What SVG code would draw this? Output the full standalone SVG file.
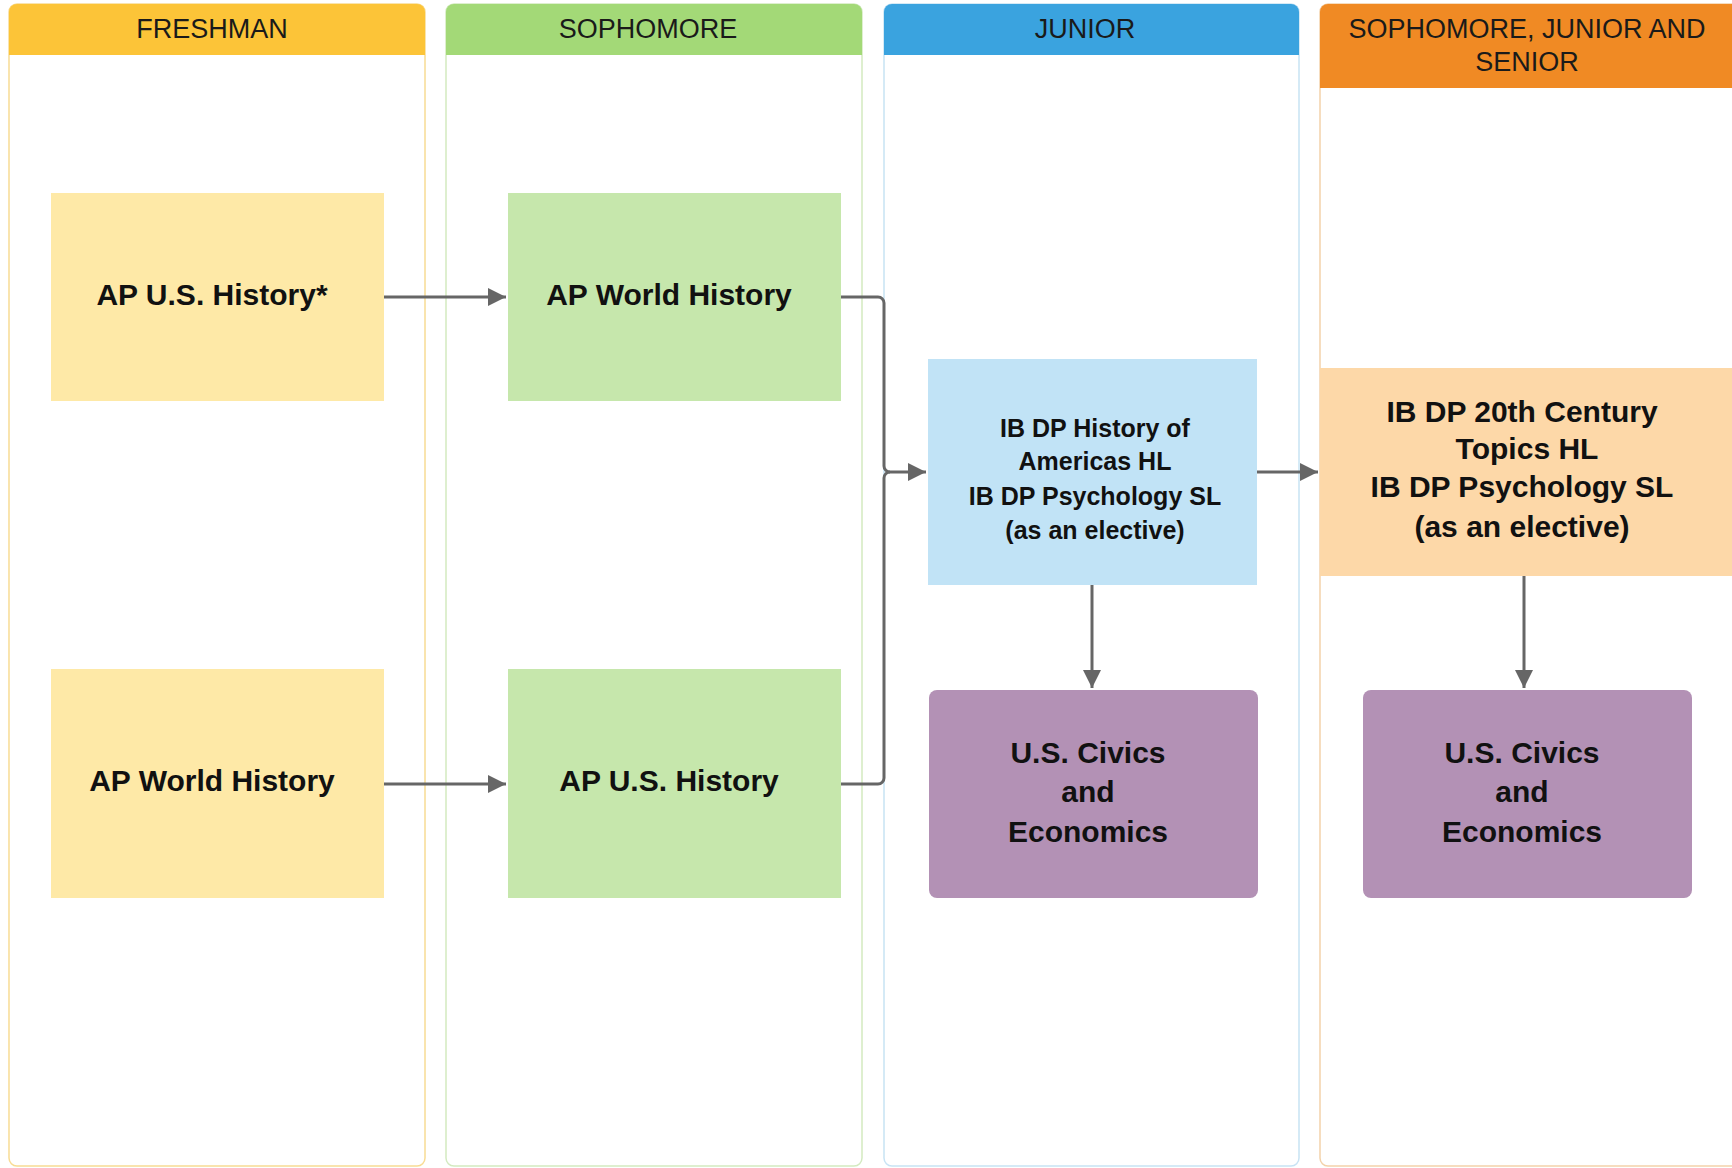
<svg xmlns="http://www.w3.org/2000/svg" width="1732" height="1168" viewBox="0 0 1732 1168">
<defs>
<style>
.lane{fill:#ffffff;stroke-width:1.5}
.hdr{font-family:"Liberation Sans",Arial,sans-serif;font-size:27px;fill:#1a1a1a;text-anchor:middle}
.nt{font-family:"Liberation Sans",Arial,sans-serif;font-weight:bold;font-size:30px;fill:#111111;text-anchor:middle}
.nt25{font-family:"Liberation Sans",Arial,sans-serif;font-weight:bold;font-size:25px;fill:#111111;text-anchor:middle}
.con{fill:none;stroke:#666666;stroke-width:3}
</style>
<marker id="arr" viewBox="0 0 10 10" refX="10" refY="5" markerWidth="6" markerHeight="6" markerUnits="strokeWidth" orient="auto">
<path d="M0,0 L10,5 L0,10 z" fill="#666666"/>
</marker>
</defs>
<rect width="1732" height="1168" fill="#ffffff"/>

<g id="lane-freshman">
<rect class="lane" x="9" y="4" width="416" height="1162" rx="8" stroke="#f8dc94"/>
<path d="M9,55 V12 a8,8 0 0 1 8,-8 H417 a8,8 0 0 1 8,8 V55 Z" fill="#fcc438"/>
<text class="hdr" x="212" y="38">FRESHMAN</text>
</g>
<g id="lane-sophomore">
<rect class="lane" x="446" y="4" width="416" height="1162" rx="8" stroke="#d3eac0"/>
<path d="M446,55 V12 a8,8 0 0 1 8,-8 H854 a8,8 0 0 1 8,8 V55 Z" fill="#a3d977"/>
<text class="hdr" x="648" y="38">SOPHOMORE</text>
</g>
<g id="lane-junior">
<rect class="lane" x="884" y="4" width="415" height="1162" rx="8" stroke="#c8e3f4"/>
<path d="M884,55 V12 a8,8 0 0 1 8,-8 H1291 a8,8 0 0 1 8,8 V55 Z" fill="#3aa3df"/>
<text class="hdr" x="1085" y="38">JUNIOR</text>
</g>
<g id="lane-sjs">
<rect class="lane" x="1320" y="4" width="420" height="1162" rx="8" stroke="#f3d2aa"/>
<path d="M1320,88 V12 a8,8 0 0 1 8,-8 H1740 V88 Z" fill="#f08a24"/>
<text class="hdr" x="1527" y="38">SOPHOMORE, JUNIOR AND</text>
<text class="hdr" x="1527" y="71">SENIOR</text>
</g>

<g id="connectors">
<path class="con" d="M383,297 H506" marker-end="url(#arr)"/>
<path class="con" d="M383,784 H506" marker-end="url(#arr)"/>
<path class="con" d="M841,297 H878 a6,6 0 0 1 6,6 V466 a6,6 0 0 0 6,6 H926" marker-end="url(#arr)"/>
<path class="con" d="M841,784 H878 a6,6 0 0 0 6,-6 V478 a6,6 0 0 1 6,-6"/>
<path class="con" d="M1257,472 H1318" marker-end="url(#arr)"/>
<path class="con" d="M1092,585 V688" marker-end="url(#arr)"/>
<path class="con" d="M1524,576 V688" marker-end="url(#arr)"/>
</g>

<g id="node-apush-fresh">
<rect x="51" y="193" width="333" height="208" fill="#fee9a7"/>
<text class="nt" x="212" y="305">AP U.S. History*</text>
</g>
<g id="node-apwh-fresh">
<rect x="51" y="669" width="333" height="229" fill="#fee9a7"/>
<text class="nt" x="212" y="791">AP World History</text>
</g>
<g id="node-apwh-soph">
<rect x="508" y="193" width="333" height="208" fill="#c6e7ac"/>
<text class="nt" x="669" y="305">AP World History</text>
</g>
<g id="node-apush-soph">
<rect x="508" y="669" width="333" height="229" fill="#c6e7ac"/>
<text class="nt" x="669" y="791">AP U.S. History</text>
</g>
<g id="node-ibdp-junior">
<rect x="928" y="359" width="329" height="226" fill="#c1e3f6"/>
<text class="nt25" x="1095" y="437">IB DP History of</text>
<text class="nt25" x="1095" y="470">Americas HL</text>
<text class="nt25" x="1095" y="505">IB DP Psychology SL</text>
<text class="nt25" x="1095" y="539">(as an elective)</text>
</g>
<g id="node-ibdp-sjs">
<rect x="1320" y="368" width="412" height="208" fill="#fdd8a8"/>
<text class="nt" x="1522" y="422">IB DP 20th Century</text>
<text class="nt" x="1527" y="459">Topics HL</text>
<text class="nt" x="1522" y="497">IB DP Psychology SL</text>
<text class="nt" x="1522" y="537">(as an elective)</text>
</g>
<g id="node-civics-junior">
<rect x="929" y="690" width="329" height="208" rx="8" fill="#b391b5"/>
<text class="nt" x="1088" y="763">U.S. Civics</text>
<text class="nt" x="1088" y="802">and</text>
<text class="nt" x="1088" y="842">Economics</text>
</g>
<g id="node-civics-sjs">
<rect x="1363" y="690" width="329" height="208" rx="8" fill="#b391b5"/>
<text class="nt" x="1522" y="763">U.S. Civics</text>
<text class="nt" x="1522" y="802">and</text>
<text class="nt" x="1522" y="842">Economics</text>
</g>
</svg>
